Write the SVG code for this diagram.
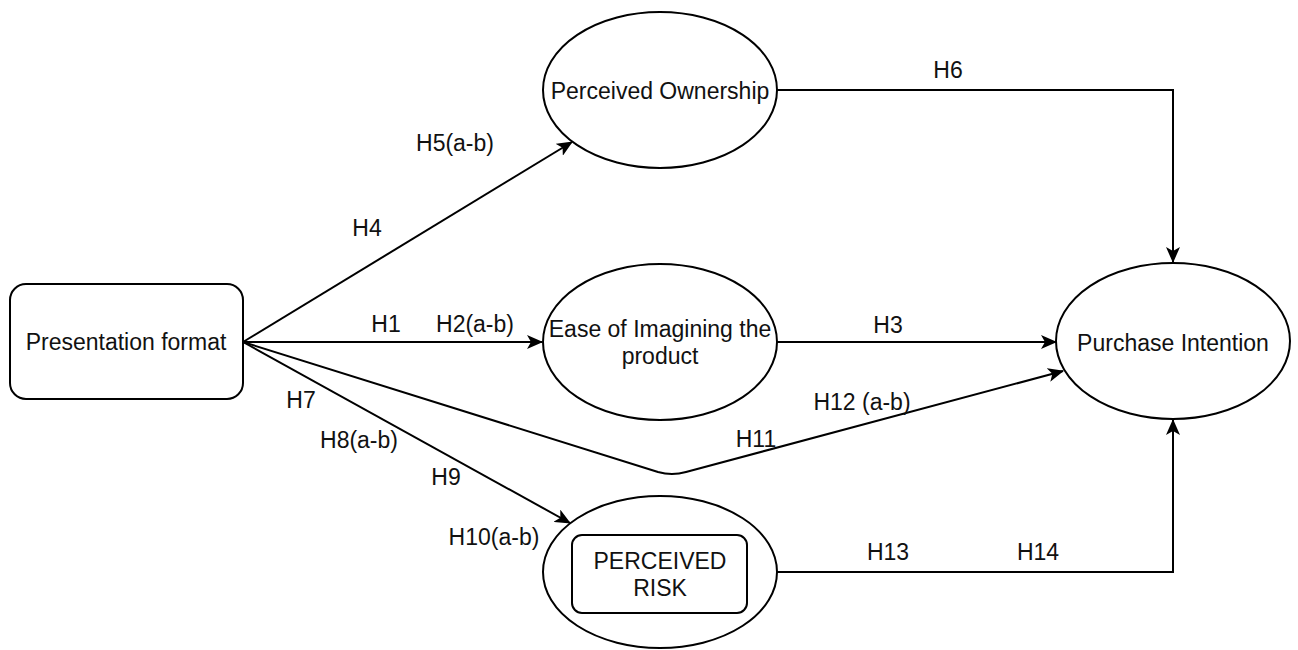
<svg xmlns="http://www.w3.org/2000/svg" width="1298" height="650" viewBox="0 0 1298 650">
<defs>
<style>
.node{fill:#fff;stroke:#000;stroke-width:2}
.edge{fill:none;stroke:#000;stroke-width:2}
text{font-family:"Liberation Sans",Arial,sans-serif;font-size:23px;fill:#111;text-anchor:middle;dominant-baseline:central}
</style>
<marker id="arr" viewBox="0 0 16 14" markerWidth="16" markerHeight="14" markerUnits="userSpaceOnUse" refX="15" refY="7" orient="auto">
<path d="M0,0 L16,7 L0,14 L4,7 Z" fill="#000"/>
</marker>
</defs>
<rect width="1298" height="650" fill="#fff"/>
<g id="connectors">
<path class="edge" d="M243,342 L572,142" marker-end="url(#arr)"/>
<path class="edge" d="M243,342 L542,342" marker-end="url(#arr)"/>
<path class="edge" d="M243,342 L570,523" marker-end="url(#arr)"/>
<path class="edge" d="M243,342 L658,472 Q672,476 686,472 L1063,371" marker-end="url(#arr)"/>
<path class="edge" d="M777,90 L1173,90 L1173,262" marker-end="url(#arr)"/>
<path class="edge" d="M776,342 L1056,342" marker-end="url(#arr)"/>
<path class="edge" d="M776,572 L1173,572 L1173,420" marker-end="url(#arr)"/>
</g>
<g id="labels">
<text x="948" y="70">H6</text>
<text x="455" y="143">H5(a-b)</text>
<text x="367" y="228">H4</text>
<text x="386" y="324">H1</text>
<text x="475" y="324">H2(a-b)</text>
<text x="888" y="325">H3</text>
<text x="301" y="400">H7</text>
<text x="359" y="440">H8(a-b)</text>
<text x="446" y="477">H9</text>
<text x="494" y="537">H10(a-b)</text>
<text x="862" y="402">H12 (a-b)</text>
<text x="756" y="439">H11</text>
<text x="888" y="552">H13</text>
<text x="1038" y="552">H14</text>
</g>
<g id="presentation-format">
<rect class="node" x="10" y="284" width="233" height="115" rx="16" ry="16"/>
<text x="126" y="342">Presentation format</text>
</g>
<g id="perceived-ownership">
<ellipse class="node" cx="660" cy="90" rx="117" ry="78"/>
<text x="660" y="91">Perceived Ownership</text>
</g>
<g id="ease-of-imagining">
<ellipse class="node" cx="660" cy="342" rx="117" ry="78"/>
<text x="660" y="329">Ease of Imagining the</text>
<text x="660" y="356">product</text>
</g>
<g id="perceived-risk">
<ellipse class="node" cx="660" cy="572" rx="117" ry="76"/>
<rect class="node" x="572" y="535" width="175" height="78" rx="10" ry="10"/>
<text x="660" y="561">PERCEIVED</text>
<text x="660" y="588">RISK</text>
</g>
<g id="purchase-intention">
<ellipse class="node" cx="1173" cy="341" rx="117" ry="78"/>
<text x="1173" y="343">Purchase Intention</text>
</g>
</svg>
